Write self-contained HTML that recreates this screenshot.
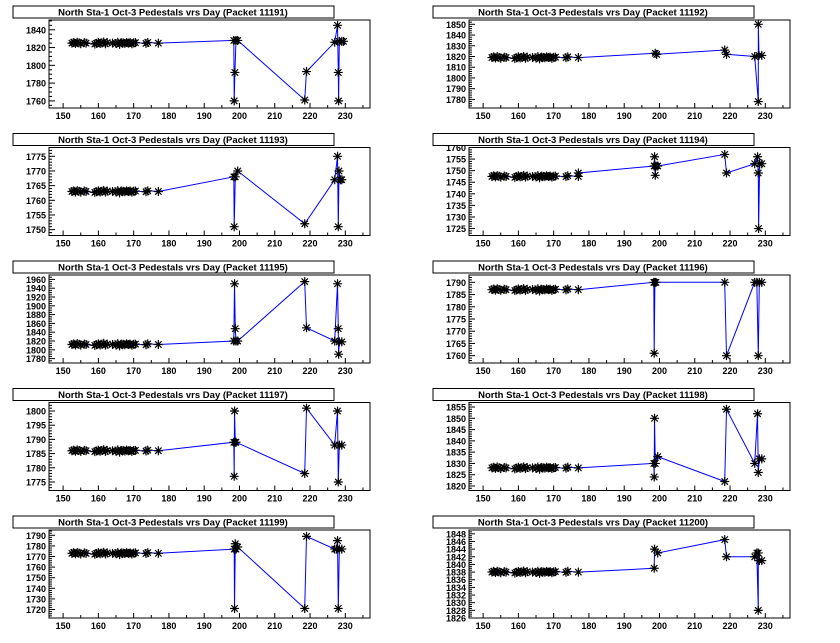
<!DOCTYPE html>
<html><head><meta charset="utf-8"><style>
body{margin:0;background:#fff;width:840px;height:638px;overflow:hidden}
svg text{font-family:"Liberation Sans",sans-serif;font-weight:bold}
</style></head><body>
<svg id="s" width="840" height="638" xmlns="http://www.w3.org/2000/svg"></svg>
<script>
var pads=[
{n:11191,y0:1752,y1:1851,st:20,mn:4,base:1825,ex:[[198.4,1828],[198.5,1760],[198.7,1792],[199,1828],[199.5,1828],[218.5,1761],[219,1793],[227,1826],[227.8,1845],[228,1792],[228.1,1760],[228.3,1827],[229,1827],[229.5,1827]]},
{n:11192,y0:1772,y1:1854,st:10,mn:5,base:1819,ex:[[198.8,1823],[199.2,1822],[218.5,1826],[219,1822],[227,1820],[228,1778],[228,1850],[228.2,1821],[229,1821]]},
{n:11193,y0:1748,y1:1778,st:5,mn:5,base:1763,ex:[[198.4,1768],[198.5,1751],[198.8,1768],[199.5,1770],[218.5,1752],[227,1767],[227.8,1775],[228,1751],[228.2,1770],[228.6,1767],[229,1767]]},
{n:11194,y0:1722,y1:1760,st:5,mn:5,base:1747.5,ex:[[177,1749],[198.5,1752],[198.6,1756],[198.8,1748],[199,1752],[199.5,1752],[218.5,1757],[219,1749],[227,1753],[227.8,1756],[228,1749],[228.1,1725],[228.4,1753],[229,1753]]},
{n:11195,y0:1770,y1:1970,st:20,mn:4,base:1812,ex:[[198.4,1820],[198.6,1950],[198.8,1848],[199,1820],[199.5,1820],[218.5,1955],[219,1850],[227,1820],[227.8,1950],[228,1848],[228.1,1790],[228.3,1818],[229,1818]]},
{n:11196,y0:1757,y1:1793,st:5,mn:5,base:1787,ex:[[198.4,1790],[198.5,1761],[198.7,1790],[199,1790],[218.5,1790],[219,1760],[227,1790],[227.6,1790],[228,1760],[228.3,1790],[229,1790]]},
{n:11197,y0:1772,y1:1803,st:5,mn:5,base:1786,ex:[[198.4,1789],[198.5,1777],[198.6,1800],[198.8,1789],[199,1789],[218.5,1778],[219,1801],[227,1788],[227.8,1800],[228,1775],[228.3,1788],[229,1788]]},
{n:11198,y0:1818,y1:1857,st:5,mn:5,base:1828,ex:[[198.4,1830],[198.5,1824],[198.6,1850],[198.8,1830],[199.5,1833],[218.5,1822],[219,1854],[227,1830],[227.8,1852],[228,1826],[228.3,1832],[229,1832]]},
{n:11199,y0:1712,y1:1795,st:10,mn:5,base:1773,ex:[[198.5,1777],[198.6,1721],[198.8,1782],[199,1777],[199.5,1779],[218.5,1721],[219,1789],[227,1777],[227.5,1777],[227.8,1785],[228,1721],[228.3,1777],[229,1777]]},
{n:11200,y0:1826,y1:1849,st:2,mn:4,base:1838,ex:[[177,1838],[198.5,1839],[198.6,1844],[199.5,1843],[218.5,1846.5],[219,1842],[227,1842],[227.6,1843],[228,1828],[228,1843],[228.3,1841],[229,1841]]}
];
var early=[152.5,153,153.5,154,154.5,155,156,156.5,159,159.5,160,160.5,161,161.5,162,162.5,164,165,165.5,166,166.5,167,167.5,168,168.5,169,169.5,170,170.5,173.5,174,177];
var jit=[0,.3,-.2,.4,.1,-.3,.2,0,-.4,-.1,.3,-.2,.1,.5,-.3,.2,0,-.2,.4,-.6,.2,.1,-.1,.3,0,.2,-.3,.1,.2,-.1,.3,0];
var h='';
pads.forEach(function(p,i){
 var col=i%2,row=Math.floor(i/2);
 var ox=col*420, oy=row*127.5;
 var L=49+ox,R=370+ox,T=20+oy,B=108+oy;
 var X=function(d){return L+(d-146)*(R-L)/91};
 var Y=function(v){return B-(v-p.y0)*(B-T)/(p.y1-p.y0)};
 h+='<rect x="'+L+'" y="'+T+'" width="'+(R-L)+'" height="'+(B-T)+'" fill="none" stroke="#000" stroke-width="1"/>';
 for(var d=146;d<=237;d++){var x=X(d);var big=d%10==0;var sm=d%5==0;
  if(big||sm){h+='<line x1="'+x+'" y1="'+B+'" x2="'+x+'" y2="'+(B-(big?5:3))+'" stroke="#000" stroke-width="1"/>';}
  if(big&&d>=150&&d<=230)h+='<text x="'+x+'" y="'+(B+11)+'" font-size="9" text-anchor="middle">'+d+'</text>';}
 var ms=p.st/p.mn;
 for(var v=Math.ceil(p.y0/ms)*ms;v<=p.y1;v+=ms){var y=Y(v);var big=Math.abs(v/p.st-Math.round(v/p.st))<1e-6;
  h+='<line x1="'+L+'" y1="'+y+'" x2="'+(L+(big?6:3))+'" y2="'+y+'" stroke="#000" stroke-width="1"/>';
  if(big)h+='<text x="'+(L-3)+'" y="'+(y+3.5)+'" font-size="9" text-anchor="end">'+Math.round(v)+'</text>';}
 var pts=early.map(function(d,k){return [d,p.base+jit[k]*(p.y1-p.y0)/40]}).concat(p.ex);
 h+='<polyline fill="none" stroke="#0000ff" stroke-width="1" points="'+pts.map(function(q){return X(q[0]).toFixed(1)+','+Y(q[1]).toFixed(1)}).join(' ')+'"/>';
 var m='';
 pts.forEach(function(q){var x=X(q[0]),y=Y(q[1]),r=4.5,s=3.2;
  m+='M'+(x-r)+' '+y+'h'+(2*r)+'M'+x+' '+(y-r)+'v'+(2*r)+'M'+(x-s)+' '+(y-s)+'l'+(2*s)+' '+(2*s)+'M'+(x-s)+' '+(y+s)+'l'+(2*s)+' '+(-2*s);});
 h+='<path d="'+m+'" stroke="#000" stroke-width="1.2" fill="none"/>';
 h+='<rect x="'+(13+ox)+'" y="'+(6+oy)+'" width="321" height="12" fill="#fff" stroke="#000" stroke-width="1"/>';
 h+='<text x="'+(173+ox)+'" y="'+(15.5+oy)+'" font-size="9.5" text-anchor="middle">North Sta-1 Oct-3 Pedestals vrs Day (Packet '+p.n+')</text>';
});
document.getElementById('s').innerHTML=h;
</script>
</body></html>
